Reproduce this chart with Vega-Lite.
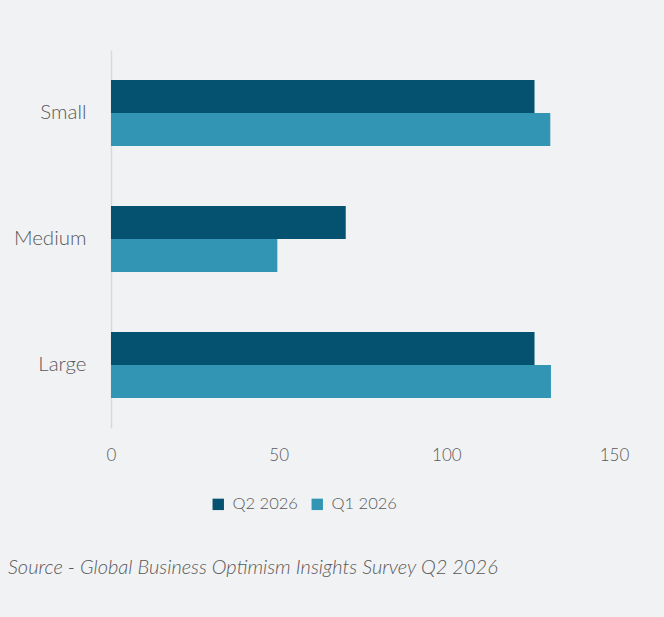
{
  "$schema": "https://vega.github.io/schema/vega-lite/v6.json",
  "width": 503,
  "height": 378,
  "autosize": {"type": "none"},
  "padding": {"left": 111, "top": 50, "right": 50, "bottom": 189},
  "background": "#f1f2f4",
  "config": {
    "view": {"stroke": null},
    "font": "Lato",
    "axis": {"labelFont": "Lato", "labelColor": "#595959", "labelFontSize": 17}
  },
  "title": {
    "text": "Source - Global Business Optimism Insights Survey Q2 2026",
    "orient": "bottom",
    "anchor": "start",
    "frame": "group",
    "dx": -103,
    "offset": 45,
    "font": "Lato",
    "fontSize": 20,
    "fontStyle": "italic",
    "fontWeight": 300,
    "color": "#595959"
  },
  "data": {
    "values": [
      {"size": "Small", "period": "Q2 2026", "value": 126.3},
      {"size": "Small", "period": "Q1 2026", "value": 131},
      {"size": "Medium", "period": "Q2 2026", "value": 70},
      {"size": "Medium", "period": "Q1 2026", "value": 49.6},
      {"size": "Large", "period": "Q2 2026", "value": 126.3},
      {"size": "Large", "period": "Q1 2026", "value": 131.2}
    ]
  },
  "mark": {"type": "bar"},
  "encoding": {
    "y": {
      "field": "size",
      "type": "nominal",
      "sort": ["Small", "Medium", "Large"],
      "scale": {"paddingInner": 0.476, "paddingOuter": 0.238},
      "axis": {"title": null, "ticks": false, "domainColor": "#d9d9d9", "domainWidth": 1.5, "labelPadding": 25, "labelFontSize": 20.5, "labelFontWeight": 300}
    },
    "yOffset": {"field": "period", "sort": ["Q2 2026", "Q1 2026"], "scale": {"paddingInner": 0, "paddingOuter": 0}},
    "x": {
      "field": "value",
      "type": "quantitative",
      "scale": {"domain": [0, 150]},
      "axis": {"title": null, "values": [0, 50, 100, 150], "ticks": false, "domain": false, "grid": false, "labelPadding": 19, "labelFlush": false, "labelFontWeight": 300}
    },
    "color": {
      "field": "period",
      "type": "nominal",
      "sort": ["Q2 2026", "Q1 2026"],
      "scale": {"domain": ["Q2 2026", "Q1 2026"], "range": ["#055170", "#3195b3"]},
      "legend": {
        "title": null,
        "orient": "none",
        "direction": "horizontal",
        "legendX": 99,
        "legendY": 446,
        "symbolType": "square",
        "symbolSize": 130,
        "symbolStrokeWidth": 0,
        "labelFont": "Lato",
        "labelFontSize": 16.5,
        "labelFontWeight": 300,
        "labelColor": "#595959",
        "columnPadding": 11,
        "labelOffset": 6
      }
    }
  }
}
